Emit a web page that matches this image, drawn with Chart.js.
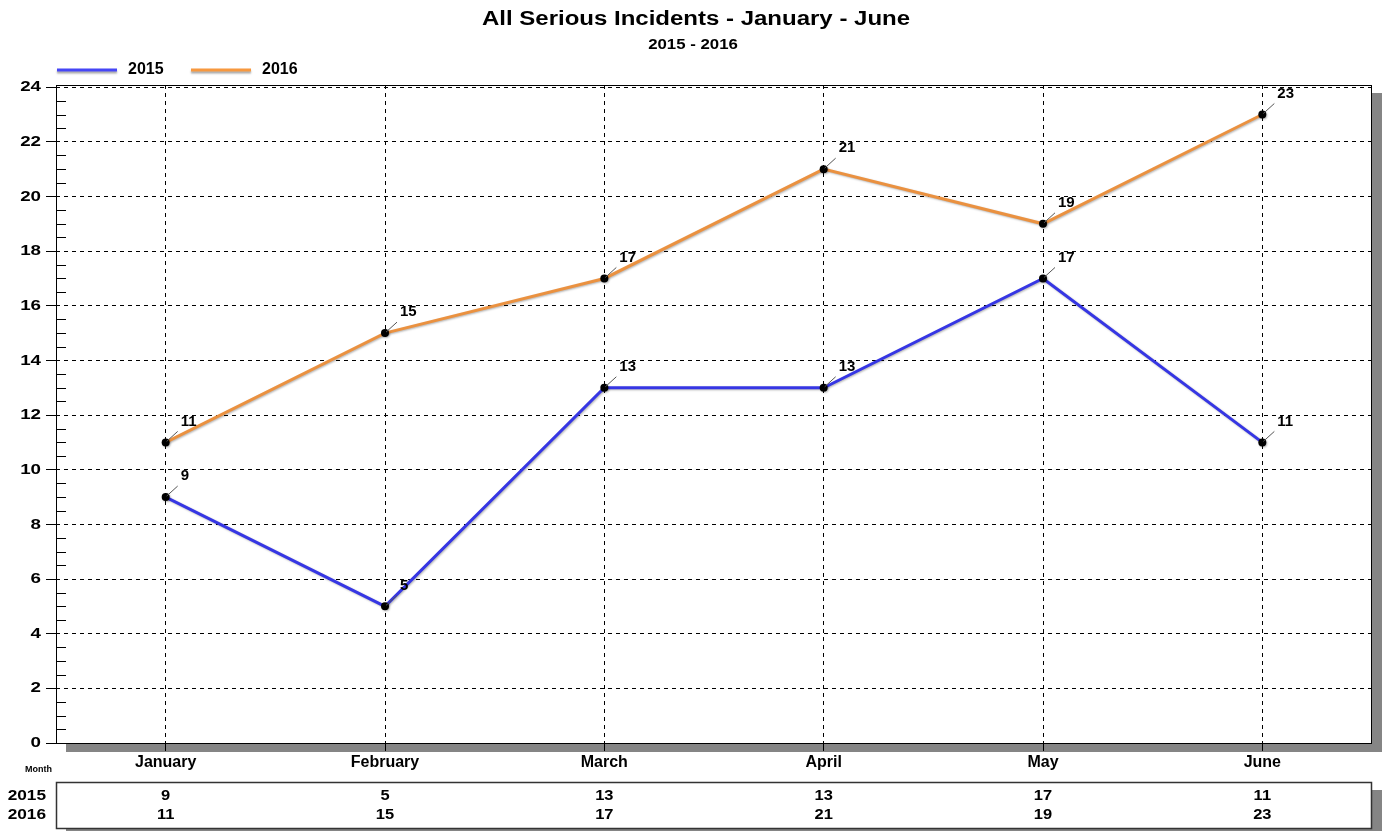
<!DOCTYPE html>
<html>
<head>
<meta charset="utf-8">
<title>All Serious Incidents - January - June</title>
<script src="https://cdn.jsdelivr.net/npm/chart.js@4.4.0/dist/chart.umd.min.js"></script>
<style>
  html, body { margin: 0; padding: 0; background: #fff; }
  canvas { display: block; }
</style>
</head>
<body>
<canvas id="incidents" width="1385" height="831"></canvas>
<script>
// ---- data ----
const months = ['January', 'February', 'March', 'April', 'May', 'June'];
const seriesNames = ['2015', '2016'];
const values2015 = [9, 5, 13, 13, 17, 11];
const values2016 = [11, 15, 17, 21, 19, 23];
const seriesColors = ['#3636e4', '#ea9140'];
const legendColors = ['#4646f6', '#f7983f'];
const titleText = 'All Serious Incidents - January - June';
const subtitleText = '2015 - 2016';
const axisCaption = 'Month';

const FONT = '"Liberation Sans", Arial, Helvetica, sans-serif';
const font = (size) => `bold ${size}px ${FONT}`;

// text drawn a little wider than the font's natural width
function wideText(ctx, text, x, y, sx, align) {
    ctx.save();
    ctx.translate(x, y);
    ctx.scale(sx, 1);
    ctx.textAlign = align;
    ctx.fillText(text, 0, 0);
    ctx.restore();
}

// white page + grey drop shadows behind the plot and the table
const backdrop = {
    id: 'backdrop',
    beforeDraw(chart) {
        const { ctx, chartArea: a } = chart;
        ctx.save();
        ctx.fillStyle = '#fff';
        ctx.fillRect(0, 0, chart.width, chart.height);
        ctx.fillStyle = '#858585';
        ctx.fillRect(a.left + 10, a.top + 8, a.right - a.left, a.bottom - a.top + 1);
        ctx.fillRect(66, 790, 1316, 47);
        ctx.fillStyle = '#fff';
        ctx.fillRect(a.left, a.top, a.right - a.left, a.bottom - a.top);
        ctx.restore();
    }
};

// soft shadow under the series lines
const lineShadow = {
    id: 'lineShadow',
    beforeDatasetDraw(chart) {
        const ctx = chart.ctx;
        ctx.save();
        ctx.shadowColor = 'rgba(0,0,0,0.28)';
        ctx.shadowOffsetX = 1;
        ctx.shadowOffsetY = 1;
        ctx.shadowBlur = 2;
    },
    afterDatasetDraw(chart) {
        chart.ctx.restore();
    }
};

// frame, minor ticks, titles, legend, value labels and the data table
const overlay = {
    id: 'overlay',
    afterDraw(chart) {
        const { ctx, chartArea: a, scales } = chart;
        const yScale = scales.y, xScale = scales.x;
        ctx.save();

        // plot frame
        ctx.strokeStyle = '#000';
        ctx.lineWidth = 1;
        ctx.strokeRect(a.left + 0.5, a.top + 0.5, a.right - a.left - 1, a.bottom - a.top);

        // minor ticks every half unit
        ctx.beginPath();
        for (let v = 0.5; v < 24; v += 0.5) {
            if (v % 2 === 0) continue;
            const py = Math.round(yScale.getPixelForValue(v)) + 0.5;
            ctx.moveTo(a.left, py);
            ctx.lineTo(a.left + 10, py);
        }
        ctx.stroke();

        ctx.fillStyle = '#000';
        ctx.textBaseline = 'middle';

        // y tick labels
        ctx.font = font(15);
        yScale.ticks.forEach(t => {
            wideText(ctx, String(t.value), 41, yScale.getPixelForValue(t.value), 1.25, 'right');
        });

        // titles
        ctx.font = font(20);
        wideText(ctx, titleText, 696, 19, 1.2, 'center');
        ctx.font = font(14);
        wideText(ctx, subtitleText, 693, 45, 1.2, 'center');

        // legend
        const legendX = [57, 191];
        seriesNames.forEach((name, i) => {
            const x0 = legendX[i];
            ctx.save();
            ctx.shadowColor = 'rgba(0,0,0,0.35)';
            ctx.shadowOffsetY = 2;
            ctx.shadowBlur = 2;
            ctx.strokeStyle = legendColors[i];
            ctx.lineWidth = 3;
            ctx.beginPath();
            ctx.moveTo(x0, 70);
            ctx.lineTo(x0 + 60, 70);
            ctx.stroke();
            ctx.restore();
            ctx.fillStyle = '#000';
            ctx.textAlign = 'left';
            ctx.font = font(16);
            ctx.fillText(name, x0 + 71, 70);
        });

        // value labels with leader lines
        chart.data.datasets.forEach((ds, di) => {
            const meta = chart.getDatasetMeta(di);
            meta.data.forEach((pt, i) => {
                ctx.strokeStyle = '#555';
                ctx.lineWidth = 1;
                ctx.beginPath();
                ctx.moveTo(pt.x + 1, pt.y - 1);
                ctx.lineTo(pt.x + 12, pt.y - 11);
                ctx.stroke();
                ctx.fillStyle = '#000';
                ctx.textAlign = 'left';
                ctx.font = font(15);
                ctx.fillText(String(ds.data[i]), pt.x + 15, pt.y - 21);
            });
        });

        // axis caption
        ctx.font = font(9);
        ctx.textAlign = 'left';
        ctx.fillText(axisCaption, 25, 770);

        // data table under the plot
        ctx.fillStyle = '#fff';
        ctx.fillRect(56, 782, 1316, 47);
        ctx.strokeStyle = '#333';
        ctx.lineWidth = 1.5;
        ctx.strokeRect(56.5, 782.5, 1315, 46);
        const rows = [values2015, values2016];
        const rowY = [796, 815];
        ctx.fillStyle = '#000';
        rows.forEach((vals, r) => {
            ctx.font = font(15);
            wideText(ctx, seriesNames[r], 46, rowY[r], 1.15, 'right');
            vals.forEach((v, i) => {
                wideText(ctx, String(v), xScale.getPixelForValue(i), rowY[r], 1.1, 'center');
            });
        });

        ctx.restore();
    }
};

new Chart(document.getElementById('incidents'), {
    type: 'line',
    data: {
        labels: months,
        datasets: [values2015, values2016].map((vals, i) => ({
            label: seriesNames[i],
            data: vals,
            borderColor: seriesColors[i],
            borderWidth: 3,
            tension: 0,
            fill: false,
            pointRadius: 4,
            pointHoverRadius: 4,
            pointBackgroundColor: '#000',
            pointBorderColor: '#000',
            pointBorderWidth: 0
        }))
    },
    options: {
        responsive: false,
        animation: false,
        devicePixelRatio: 1,
        layout: { padding: { left: 0, right: 13, top: 85, bottom: 58 } },
        plugins: {
            legend: { display: false },
            title: { display: false },
            tooltip: { enabled: false }
        },
        scales: {
            x: {
                type: 'category',
                offset: true,
                grid: { offset: false, color: '#000', lineWidth: 1, tickLength: 8, tickColor: '#000', tickBorderDash: [] },
                border: { display: false, dash: [4, 4] },
                ticks: { color: '#000', font: { family: FONT, size: 16, weight: 'bold' }, padding: 2, maxRotation: 0, autoSkip: false },
                afterFit(scale) { scale.height = 30; }
            },
            y: {
                min: 0,
                max: 24.08,
                grid: { color: '#000', lineWidth: 1, tickLength: 10, tickColor: '#000', tickBorderDash: [] },
                border: { display: false, dash: [4, 4] },
                ticks: { display: false, stepSize: 2, includeBounds: false },
                afterFit(scale) { scale.width = 56; }
            }
        }
    },
    plugins: [backdrop, lineShadow, overlay]
});
</script>
</body>
</html>
